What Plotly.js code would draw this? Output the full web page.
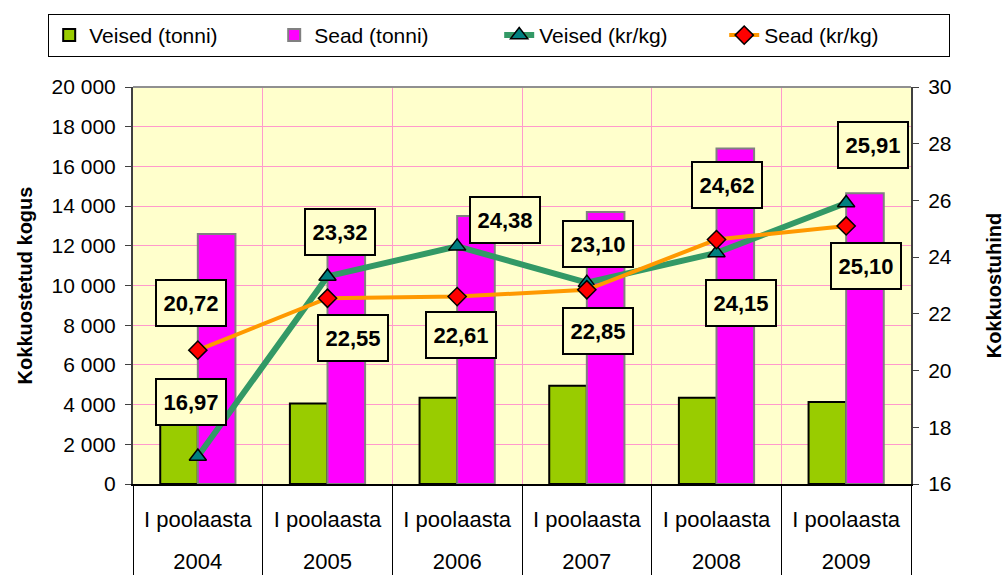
<!DOCTYPE html>
<html>
<head>
<meta charset="utf-8">
<script src="https://cdn.plot.ly/plotly-3.0.1.min.js"></script>
<style>html,body{margin:0;padding:0;background:#fff;}#chart{width:1006px;height:575px;}</style>
</head>
<body>
<div id="chart"></div>
<script>
// ---- data ----
const years = ['2004', '2005', '2006', '2007', '2008', '2009'];
const halves = ['I poolaasta', 'I poolaasta', 'I poolaasta', 'I poolaasta', 'I poolaasta', 'I poolaasta'];
const veisedTonni = [3200, 4050, 4350, 4950, 4350, 4130];
const seadTonni = [12600, 11800, 13500, 13700, 16900, 14650];
const veisedHind = [16.97, 23.32, 24.38, 23.10, 24.15, 25.91];
const seadHind = [20.72, 22.55, 22.61, 22.85, 24.62, 25.10];
const yLeftTicks = [0, 2000, 4000, 6000, 8000, 10000, 12000, 14000, 16000, 18000, 20000];
const yRightTicks = [16, 18, 20, 22, 24, 26, 28, 30];

// ---- label placement (screen pixel shifts) ----
const veisedShift = [[-7, -54], [12, -44], [48, -26], [11, -39], [24, 50], [27, -58]];
const seadShift = [[-7, -47], [25, 40], [4, 38], [11, 41], [10, -55], [20, 40]];

const FONT = 'Liberation Sans, Arial, sans-serif';
const idx = years.map((_, i) => i);
const bounds = [-0.5].concat(idx.map(i => i + 0.5));
const xRange = [-0.5, years.length - 0.5];

const traces = [
  {type: 'bar', name: 'Veised (tonni)', x: years, y: veisedTonni,
   marker: {color: '#99CC00', line: {color: '#000000', width: 2}}},
  {type: 'bar', name: 'Sead (tonni)', x: years, y: seadTonni,
   marker: {color: '#FF00FF', line: {color: '#808080', width: 2}}},
  {type: 'scatter', mode: 'lines+markers', name: 'Veised (kr/kg)', x: years, y: veisedHind, yaxis: 'y2',
   line: {color: '#339966', width: 6},
   marker: {symbol: 'triangle-up', size: 15, color: '#008080', line: {color: '#000000', width: 1.5}}},
  {type: 'scatter', mode: 'lines+markers', name: 'Sead (kr/kg)', x: years, y: seadHind, yaxis: 'y2',
   line: {color: '#FF9900', width: 4},
   marker: {symbol: 'diamond', size: 14, color: '#FF0000', line: {color: '#000000', width: 1.5}}}
];

function fmt(v) { return v.toFixed(2).replace('.', ','); }
const annotations = [];
function addLabels(vals, shifts) {
  vals.forEach((v, i) => {
    annotations.push({
      xref: 'x3', yref: 'y2', x: i, y: v, text: '<b>' + fmt(v) + '</b>', showarrow: false,
      xshift: shifts[i][0], yshift: -shifts[i][1],
      width: 66, height: 42, bgcolor: '#FFFFCC', bordercolor: '#000000', borderwidth: 2,
      font: {family: FONT, size: 22, color: '#000000'}
    });
  });
}
addLabels(veisedHind, veisedShift);
addLabels(seadHind, seadShift);

const layout = {
  width: 1006, height: 575,
  margin: {l: 133, r: 95, t: 87, b: 91},
  paper_bgcolor: '#FFFFFF', plot_bgcolor: '#FFFFCC',
  separators: ', ',
  font: {family: FONT, size: 20, color: '#000000'},
  barmode: 'group', bargap: 0.42, bargroupgap: 0,
  showlegend: true,
  legend: {orientation: 'h', x: -0.109, y: 1.184, xanchor: 'left', yanchor: 'top',
           bgcolor: '#FFFFFF', bordercolor: '#000000', borderwidth: 1,
           font: {family: FONT, size: 21, color: '#000000'}, entrywidth: 180, traceorder: 'normal'},
  // years row (bottom)
  xaxis: {type: 'category', range: xRange, showgrid: false, showline: true, linecolor: '#000000', linewidth: 1.5,
          ticks: '', ticklabelstandoff: 57, zeroline: false,
          tickfont: {family: FONT, size: 22, color: '#000000'}},
  // "I poolaasta" row
  xaxis2: {overlaying: 'x', anchor: 'y', side: 'bottom', range: xRange, tickvals: idx, ticktext: halves,
           showgrid: false, zeroline: false, showline: false, ticks: '', ticklabelstandoff: 20,
           tickfont: {family: FONT, size: 22, color: '#000000'}},
  // category boundaries: grid lines and table dividers
  xaxis3: {overlaying: 'x', anchor: 'y', side: 'bottom', range: xRange, tickvals: bounds,
           showgrid: true, gridcolor: '#FF99CC', gridwidth: 1, showticklabels: false,
           ticks: 'outside', ticklen: 91, tickcolor: '#000000', tickwidth: 1,
           zeroline: false, showline: false},
  yaxis: {range: [0, 20000], tickvals: yLeftTicks, tickformat: ',d', separatethousands: true,
          showgrid: true, gridcolor: '#FF99CC', gridwidth: 1, zeroline: false,
          showline: true, linecolor: '#404040', linewidth: 2, ticks: 'outside', ticklen: 6, tickcolor: '#404040',
          ticklabelstandoff: 5,
          tickfont: {family: FONT, size: 21, color: '#000000'},
          title: {text: '<b>Kokkuostetud kogus</b>', font: {family: FONT, size: 20, color: '#000000'}, standoff: 14}},
  yaxis2: {overlaying: 'y', side: 'right', range: [16, 30], tickvals: yRightTicks, showgrid: false, zeroline: false,
           showline: true, linecolor: '#404040', linewidth: 2, ticks: 'outside', ticklen: 6, tickcolor: '#404040',
           ticklabelstandoff: 5,
           tickfont: {family: FONT, size: 21, color: '#000000'},
           title: {text: '<b>Kokkuostuhind</b>', font: {family: FONT, size: 20, color: '#000000'}, standoff: 36}},
  shapes: [{type: 'line', xref: 'x2', yref: 'paper', x0: xRange[0], x1: xRange[1], y0: 1, y1: 1,
            line: {color: '#909090', width: 2}}],
  annotations: annotations
};

Plotly.newPlot('chart', traces, layout, {displayModeBar: false, staticPlot: true});
</script>
</body>
</html>
